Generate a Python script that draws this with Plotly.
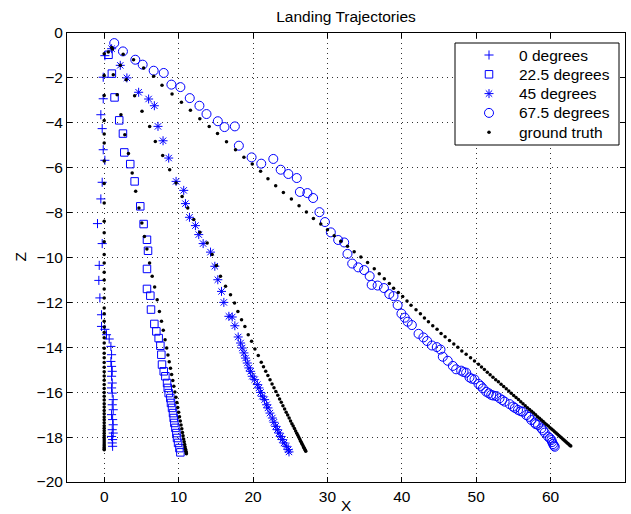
import plotly.graph_objects as go

# ---------------- data ----------------
# 0 degrees estimate (+)
plus_x = [0.09, -0.13, -0.13, -0.45, -0.27, -0.13, 0.09, -0.27, -0.45, -0.90,
          -0.27, -0.67, -0.72, -0.58, -0.36, -0.36, 0.09, 0.31, 0.67, 0.90,
          0.99, 0.90, 0.99, 1.08, 0.99, 1.08, 0.99, 1.08, 1.21, 1.08,
          1.21, 0.99, 1.13, 1.21, 1.08, 1.21, 0.99, 1.13, 1.08, 1.13]
plus_z = [-1.01, -1.97, -2.93, -3.64, -4.26, -5.20, -5.67, -6.65, -7.39, -8.49,
          -9.38, -10.35, -11.02, -11.80, -12.55, -13.07, -13.20, -13.44, -13.63, -13.96,
          -14.33, -14.63, -14.85, -15.07, -15.29, -15.59, -15.81, -16.04, -16.33, -16.56,
          -16.78, -17.00, -17.22, -17.45, -17.67, -17.82, -17.97, -18.11, -18.26, -18.41]

# 22.5 degrees estimate (squares)
sq_x = [0.58, 1.03, 1.39, 2.02, 2.52, 2.70, 3.50, 4.09, 4.85, 5.30,
        5.75, 5.89, 5.75, 5.75, 6.20, 6.29, 6.74, 7.01, 7.32, 7.55,
        7.68, 7.77, 8.00, 8.22, 8.45, 8.54, 8.67, 8.89, 8.98, 9.12,
        9.25, 9.34, 9.43, 9.57, 9.70, 9.79, 9.93, 10.11, 10.24]
sq_z = [-0.97, -1.81, -2.87, -3.89, -4.48, -5.32, -5.84, -6.61, -7.72, -8.51,
        -9.21, -9.70, -10.51, -11.40, -11.70, -12.32, -12.96, -13.29, -13.59, -13.93,
        -14.33, -14.77, -15.07, -15.29, -15.59, -15.81, -16.04, -16.26, -16.48, -16.70,
        -16.93, -17.15, -17.37, -17.59, -17.82, -18.04, -18.26, -18.49, -18.68]

# 45 degrees estimate (asterisks)
st_x = [1.00, 2.16, 3.05, 4.63, 5.97, 6.74, 7.23, 7.91, 8.67, 9.66,
        10.69, 10.92, 11.46, 12.26, 12.71, 13.30, 14.29, 14.87, 15.27, 15.77,
        16.08, 16.76, 17.21, 17.56, 18.01, 18.33, 18.55, 18.78, 19.00, 19.23,
        19.45, 19.68, 19.90, 20.22, 20.58, 20.80, 21.02, 21.25, 21.56, 21.83,
        22.01, 22.28, 22.60, 22.82, 23.05, 23.27, 23.49, 23.72, 23.94, 24.17,
        24.48, 24.75, 24.84]
st_z = [-0.70, -1.44, -2.00, -2.64, -2.94, -3.24, -4.16, -4.80, -5.57, -6.61,
        -7.01, -7.60, -8.21, -8.58, -8.98, -9.38, -9.76, -10.39, -10.99, -11.51,
        -12.00, -12.62, -12.65, -13.04, -13.54, -13.81, -14.03, -14.25, -14.48, -14.70,
        -14.92, -15.07, -15.29, -15.44, -15.66, -15.81, -16.01, -16.18, -16.33, -16.56,
        -16.70, -16.93, -17.15, -17.34, -17.52, -17.67, -17.82, -17.97, -18.11, -18.26,
        -18.41, -18.56, -18.66]

# 67.5 degrees estimate (circles)
ci_x = [1.35, 2.52, 4.18, 5.17, 6.65, 8.00, 9.03, 10.24, 11.50, 12.80,
        13.75, 15.27, 16.17, 17.56, 18.10, 19.81, 21.11, 22.73, 23.72, 24.75,
        25.88, 26.30, 27.31, 28.08, 28.93, 29.67, 30.46, 31.45, 32.26, 32.70,
        33.33, 34.14, 34.95, 35.68, 35.95, 36.75, 37.60, 38.32, 38.88, 39.44,
        39.95, 40.40, 40.79, 41.35, 42.25, 42.90, 43.40, 44.05, 44.70, 45.20,
        45.51, 46.18, 46.86, 47.30, 47.98, 48.30, 48.65, 49.10, 49.40, 49.77,
        50.31, 50.60, 50.90, 51.35, 51.70, 52.02, 52.30, 52.70, 53.14, 53.50,
        53.82, 54.49, 54.94, 55.20, 55.62, 56.00, 56.29, 56.74, 57.10, 57.41,
        57.86, 58.00, 58.31, 58.76, 59.00, 59.21, 59.66, 59.90, 60.11, 60.20,
        60.33, 60.45, 60.56]
ci_z = [-0.45, -0.82, -1.19, -1.41, -1.68, -1.78, -2.30, -2.41, -2.90, -3.24,
        -3.61, -3.93, -4.19, -4.16, -5.02, -5.54, -5.82, -5.61, -6.09, -6.28,
        -6.46, -7.08, -7.13, -7.35, -7.98, -8.42, -8.88, -9.22, -9.33, -9.84,
        -10.27, -10.44, -10.56, -10.83, -11.22, -11.25, -11.36, -11.63, -11.72, -12.12,
        -12.50, -12.68, -12.86, -13.01, -13.40, -13.56, -13.72, -13.92, -13.99, -14.10,
        -14.42, -14.60, -14.83, -14.98, -15.04, -15.10, -15.13, -15.34, -15.40, -15.43,
        -15.63, -15.72, -15.83, -15.98, -16.05, -16.12, -16.15, -16.17, -16.27, -16.35,
        -16.42, -16.53, -16.64, -16.70, -16.79, -16.85, -16.87, -17.02, -17.10, -17.24,
        -17.36, -17.42, -17.46, -17.61, -17.70, -17.80, -17.98, -18.05, -18.13, -18.22,
        -18.31, -18.38, -18.43]

# ground truth trajectories (black dots)
gt0_x = [0.0, 0.0, 0.0, 0.0, 0.0, 0.0, 0.0, 0.0, 0.0, 0.0,
         0.0, 0.0, 0.0, 0.0, 0.0, 0.0, 0.0, 0.0, 0.0, 0.0,
         0.0, 0.0, 0.0, 0.0, 0.0, 0.0, 0.0, 0.0, 0.0, 0.0,
         0.0, 0.0, 0.0, 0.0, 0.0, 0.0, 0.0, 0.0, 0.0, 0.0,
         0.0, 0.0, 0.0, 0.0, 0.0, 0.0, 0.0, 0.0, 0.0, 0.0,
         0.0, 0.0, 0.0, 0.0, 0.0, 0.0, 0.0, 0.0]
gt0_z = [-0.92, -1.89, -2.78, -3.90, -4.50, -4.90, -5.70, -6.70, -7.57, -8.39,
         -8.90, -9.30, -9.87, -10.25, -10.66, -11.00, -11.40, -11.80, -12.25, -12.50,
         -12.84, -13.10, -13.34, -13.58, -13.81, -14.04, -14.26, -14.47, -14.68, -14.89,
         -15.09, -15.28, -15.47, -15.66, -15.84, -16.01, -16.18, -16.35, -16.51, -16.66,
         -16.81, -16.96, -17.10, -17.23, -17.36, -17.49, -17.61, -17.72, -17.83, -17.94,
         -18.04, -18.13, -18.22, -18.31, -18.39, -18.46, -18.53, -18.56]

gt22_x = [0.55, 1.22, 1.74, 2.25, 2.77, 3.26, 3.76, 4.23, 4.67, 5.06,
          5.41, 5.74, 6.10, 6.45, 6.78, 7.12, 7.42, 7.70, 7.94, 8.18,
          8.40, 8.57, 8.74, 8.91, 9.06, 9.22, 9.36, 9.50, 9.64, 9.77,
          9.89, 10.01, 10.12, 10.23, 10.33, 10.43, 10.52, 10.60, 10.68, 10.75,
          10.82, 10.88, 10.94, 10.99, 11.03, 11.05]
gt22_z = [-0.85, -1.86, -2.75, -3.64, -4.53, -5.37, -6.24, -7.05, -7.80, -8.46,
          -9.06, -9.62, -10.24, -10.84, -11.31, -11.88, -12.40, -12.84, -13.24, -13.66,
          -14.03, -14.34, -14.64, -14.93, -15.21, -15.48, -15.74, -15.99, -16.23, -16.46,
          -16.68, -16.89, -17.09, -17.28, -17.46, -17.63, -17.79, -17.94, -18.08, -18.21,
          -18.33, -18.44, -18.54, -18.63, -18.70, -18.74]

gt45_x = [1.00, 2.16, 2.96, 4.09, 5.08, 6.11, 6.87, 7.86, 8.80, 9.66,
          10.47, 11.23, 12.04, 12.85, 13.84, 14.51, 15.09, 15.63, 16.31, 16.98,
          17.52, 17.97, 18.46, 18.91, 19.36, 19.81, 20.26, 20.71, 21.11,
          21.41, 21.71, 22.00, 22.29, 22.56, 22.82, 23.07, 23.33, 23.57, 23.80,
          24.02, 24.25, 24.46, 24.66, 24.86, 25.05, 25.23, 25.40, 25.57, 25.73,
          25.88, 26.02, 26.15, 26.29, 26.41, 26.52, 26.62, 26.73, 26.82, 26.89,
          26.97, 27.04, 27.09]
gt45_z = [-0.65, -1.44, -2.08, -2.79, -3.49, -4.16, -4.83, -5.46, -6.09, -6.68,
          -7.28, -7.80, -8.31, -8.88, -9.35, -9.87, -10.36, -10.84, -11.28, -11.66,
          -12.03, -12.40, -12.77, -13.07, -13.44, -13.73, -14.08, -14.37, -14.67,
          -14.87, -15.07, -15.26, -15.45, -15.63, -15.80, -15.97, -16.14, -16.30, -16.45,
          -16.60, -16.75, -16.89, -17.02, -17.15, -17.28, -17.40, -17.51, -17.62, -17.73,
          -17.83, -17.92, -18.01, -18.10, -18.18, -18.25, -18.32, -18.39, -18.45, -18.50,
          -18.55, -18.60, -18.63]

gt67_x = [1.12, 2.55, 3.95, 5.30, 6.65, 7.77, 9.12, 10.38, 11.59, 12.85,
          14.11, 15.23, 16.44, 17.65, 18.78, 19.90, 21.02, 22.01, 23.05, 24.08,
          25.16, 26.19, 27.18, 28.12, 29.11, 30.01, 30.91, 31.81, 32.70, 33.60,
          34.50, 35.40, 36.30, 36.97, 37.65, 38.32, 38.90, 39.53, 40.12, 40.70,
          41.24, 41.91, 42.50, 43.04, 43.58, 44.16, 44.74, 45.28, 45.82, 46.41,
          46.99, 47.53, 48.07, 48.65, 49.24, 49.77, 50.31,
          50.71, 51.10, 51.49, 51.87, 52.25, 52.62, 52.98, 53.34, 53.69, 54.04,
          54.38, 54.71, 55.04, 55.36, 55.68, 55.99, 56.29, 56.59, 56.88, 57.17,
          57.45, 57.72, 57.99, 58.25, 58.51, 58.76, 59.00, 59.24, 59.47, 59.70,
          59.92, 60.13, 60.34, 60.54, 60.74, 60.93, 61.11, 61.29, 61.46, 61.63,
          61.79, 61.94, 62.09, 62.23, 62.37, 62.50, 62.62, 62.71]
gt67_z = [-0.71, -0.95, -1.19, -1.56, -1.93, -2.33, -2.72, -3.09, -3.44, -3.82,
          -4.16, -4.48, -4.84, -5.20, -5.54, -5.84, -6.16, -6.49, -6.80, -7.10,
          -7.39, -7.69, -7.97, -8.26, -8.51, -8.76, -9.03, -9.28, -9.50, -9.74,
          -9.98, -10.22, -10.50, -10.72, -10.95, -11.16, -11.37, -11.56, -11.74, -11.94,
          -12.13, -12.33, -12.51, -12.70, -12.86, -13.04, -13.20, -13.38, -13.53, -13.70,
          -13.85, -14.00, -14.16, -14.31, -14.46, -14.61, -14.76,
          -14.88, -14.99, -15.11, -15.22, -15.33, -15.44, -15.54, -15.65, -15.75, -15.85,
          -15.95, -16.05, -16.15, -16.24, -16.33, -16.43, -16.51, -16.60, -16.69, -16.77,
          -16.85, -16.93, -17.01, -17.09, -17.16, -17.24, -17.31, -17.38, -17.45, -17.51,
          -17.58, -17.64, -17.70, -17.76, -17.82, -17.87, -17.93, -17.98, -18.03, -18.08,
          -18.13, -18.17, -18.22, -18.26, -18.30, -18.34, -18.37, -18.40]

series_names = ["0 degrees", "22.5 degrees", "45 degrees", "67.5 degrees", "ground truth"]
x_ticks = [0, 10, 20, 30, 40, 50, 60, 70]
z_ticks = [-20, -18, -16, -14, -12, -10, -8, -6, -4, -2, 0]

# ---------------- styling ----------------
BLUE = "#0000ff"
FONT = "Liberation Sans, Arial, Helvetica, sans-serif"
FS = 15.5
X_RANGE = [-5, 70]
Z_RANGE = [-20, 0]
PLOT_L, PLOT_R, PLOT_T, PLOT_B = 67, 625, 33, 482  # pixel box of the axes

styles = [
    dict(symbol="cross-thin-open", size=6.5, color=BLUE, line=dict(color=BLUE, width=1)),
    dict(symbol="square-open", size=7.5, color=BLUE, line=dict(color=BLUE, width=1)),
    dict(symbol="asterisk-open", size=7.5, color=BLUE, line=dict(color=BLUE, width=1)),
    dict(symbol="circle-open", size=9, color=BLUE, line=dict(color=BLUE, width=1)),
    dict(symbol="circle", size=3.5, color="black", line=dict(width=0)),
]

fig = go.Figure()
gt_x = gt0_x + gt22_x + gt45_x + gt67_x
gt_z = gt0_z + gt22_z + gt45_z + gt67_z
data_sets = [(plus_x, plus_z), (sq_x, sq_z), (st_x, st_z), (ci_x, ci_z), (gt_x, gt_z)]
for (xs, zs), name, st in zip(data_sets, series_names, styles):
    fig.add_trace(go.Scatter(x=xs, y=zs, mode="markers", name=name,
                             marker=st, showlegend=False))

# ---- legend drawn in an overlay pixel-space axis (layout only) ----
leg_left, leg_right, leg_top, leg_bottom = 455, 619, 43, 145
leg_rows = [55, 74.3, 93.6, 112.9, 132.2]
leg_sym_x = 489
leg_txt_x = 517
for row, name, st in zip(leg_rows, series_names, styles):
    fig.add_trace(go.Scatter(x=[leg_sym_x], y=[row], mode="markers", name=name,
                             marker=st, showlegend=False, hoverinfo="skip",
                             xaxis="x2", yaxis="y2"))

def px_to_x(px):
    return X_RANGE[0] + (px - PLOT_L) / (PLOT_R - PLOT_L) * (X_RANGE[1] - X_RANGE[0])

def py_to_z(py):
    return Z_RANGE[1] - (py - PLOT_T) / (PLOT_B - PLOT_T) * (Z_RANGE[1] - Z_RANGE[0])

annotations = [
    dict(text=name, xref="x2", yref="y2", x=leg_txt_x, y=row, xanchor="left",
         yanchor="middle", showarrow=False,
         font=dict(family=FONT, size=FS, color="black"))
    for row, name in zip(leg_rows, series_names)
]
annotations += [
    dict(text="X", xref="paper", yref="paper", x=0.5, y=-(505 - 482) / 449,
         xanchor="center", yanchor="middle", showarrow=False,
         font=dict(family=FONT, size=FS, color="black")),
    dict(text="Z", xref="paper", yref="paper", x=(20 - 67) / 558, y=0.5,
         xanchor="center", yanchor="middle", showarrow=False, textangle=-90,
         font=dict(family=FONT, size=FS, color="black")),
]

shapes = [dict(type="rect", xref="x", yref="y",
               x0=px_to_x(leg_left), x1=px_to_x(leg_right),
               y0=py_to_z(leg_top), y1=py_to_z(leg_bottom), fillcolor="white",
               line=dict(color="black", width=1), layer="between")]

axis_common = dict(
    showline=True, linecolor="black", linewidth=1, mirror="ticks",
    ticks="inside", ticklen=5, tickcolor="black", tickwidth=1,
    showgrid=True, gridcolor="#333333", gridwidth=1, griddash="1px,4px",
    zeroline=False, tickfont=dict(family=FONT, size=FS, color="black"),
)
fig.update_layout(
    xaxis=dict(range=X_RANGE, tickvals=x_ticks, **axis_common),
    yaxis=dict(range=Z_RANGE, tickvals=z_ticks, **axis_common),
    xaxis2=dict(range=[PLOT_L, PLOT_R], overlaying="x", visible=False, fixedrange=True),
    yaxis2=dict(range=[PLOT_B, PLOT_T], overlaying="y", visible=False, fixedrange=True),
    width=631, height=514,
    margin=dict(l=PLOT_L, r=631 - PLOT_R, t=PLOT_T, b=514 - PLOT_B),
    plot_bgcolor="white", paper_bgcolor="white",
    font=dict(family=FONT, size=FS, color="black"),
    title=dict(text="Landing Trajectories", x=(PLOT_L + PLOT_R) / 2 / 631, xanchor="center",
               y=1 - 17 / 514, yanchor="middle", yref="container",
               font=dict(family=FONT, size=FS, color="black")),
    showlegend=False,
    annotations=annotations,
    shapes=shapes,
)

fig.write_html("out.html")
